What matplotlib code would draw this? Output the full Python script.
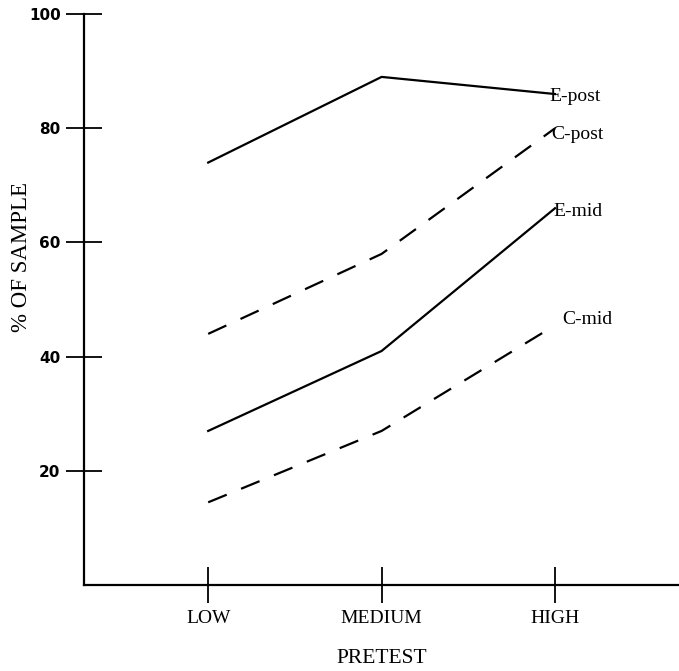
import matplotlib
matplotlib.use('Agg')
import matplotlib.pyplot as plt

# pretest groups and % of sample
levels = ['LOW', 'MEDIUM', 'HIGH']
e_post = [74, 89, 86]
c_post = [44, 58, 80]
e_mid = [27, 41, 66]
c_mid = [14.5, 27, 45.5]
yticks = [20, 40, 60, 80, 100]

serif = ['Liberation Serif', 'DejaVu Serif']

fig = plt.figure(figsize=(6.79, 6.71), dpi=100)
ax = fig.add_axes([0.124, 0.128, 0.876, 0.851])

x = range(len(levels))
ax.plot(x, e_post, color='black', lw=1.6)
ax.plot(x, e_mid, color='black', lw=1.6)
ax.plot(x, c_post, color='black', lw=1.6, dashes=(9, 7))
ax.plot(x, c_mid, color='black', lw=1.6, dashes=(9, 7))

# line names at the right end
ax.text(1.97, 85.6, 'E-post', family=serif, fontsize=14, va='center')
ax.text(1.98, 79.0, 'C-post', family=serif, fontsize=14, va='center')
ax.text(1.99, 65.5, 'E-mid', family=serif, fontsize=14, va='center')
ax.text(2.04, 46.6, 'C-mid', family=serif, fontsize=14, va='center')

ax.set_xlim(-0.715, 2.715)
ax.set_ylim(0, 100)

for s in ['top', 'right']:
    ax.spines[s].set_visible(False)
for s in ['left', 'bottom']:
    ax.spines[s].set_linewidth(1.6)

ax.set_xticks(list(x))
ax.set_xticklabels(levels, family=serif, fontsize=14)
ax.set_yticks(yticks)
ax.set_yticklabels([str(v) for v in yticks], fontweight='bold', fontsize=11)
ax.tick_params(axis='x', direction='inout', length=26, width=1.3, pad=5)
ax.tick_params(axis='y', direction='inout', length=26, width=1.3, pad=4)

ax.set_xlabel('PRETEST', family=serif, fontsize=15.5, labelpad=16)
ax.set_ylabel('% OF SAMPLE', family=serif, fontsize=16.5)
ax.yaxis.set_label_coords(-0.088, 0.575)

fig.savefig('out.png', dpi=100)
